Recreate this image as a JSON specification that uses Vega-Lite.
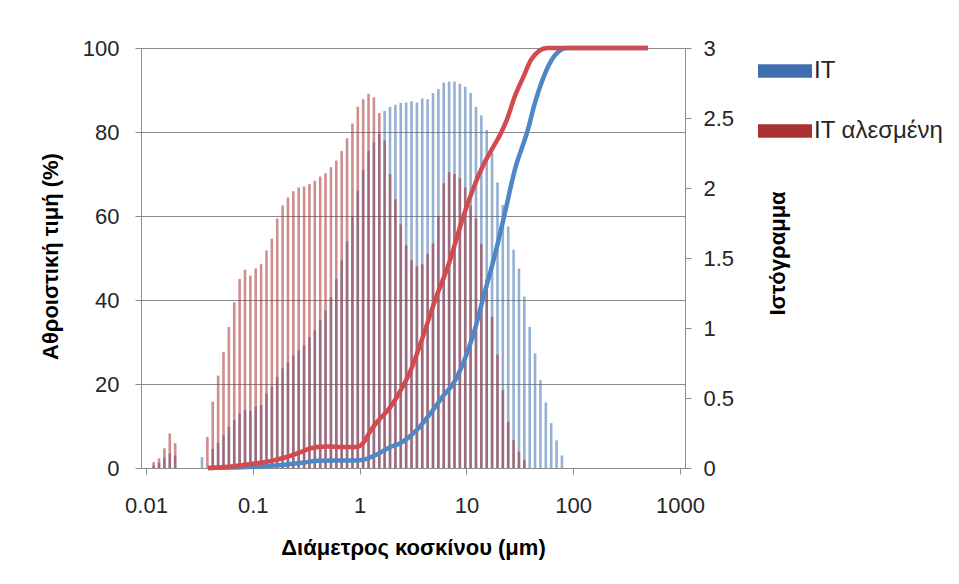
{
  "$schema": "https://vega.github.io/schema/vega-lite/v6.json",
  "width": 544,
  "height": 420,
  "autosize": {"type": "none"},
  "padding": {"left": 141, "top": 48, "right": 274, "bottom": 116},
  "background": "white",
  "config": {
    "font": "Liberation Sans",
    "view": {"stroke": null},
    "axis": {
      "domainColor": "#8c8c8c",
      "tickColor": "#8c8c8c",
      "gridColor": "#8c8c8c",
      "labelColor": "#262626",
      "titleColor": "#000000",
      "labelFont": "Liberation Sans",
      "titleFont": "Liberation Sans",
      "labelFontSize": 22,
      "titleFontSize": 22,
      "titleFontWeight": "bold",
      "tickSize": 6,
      "labelFlush": false,
      "labelOverlap": false
    }
  },
  "datasets": {
    "hist": [
      {"d": 0.01179, "s": "IT", "h": 0.018}, {"d": 0.01324, "s": "IT", "h": 0.036}, {"d": 0.01487, "s": "IT", "h": 0.075}, {"d": 0.0167, "s": "IT", "h": 0.105}, {"d": 0.01875, "s": "IT", "h": 0.09},
      {"d": 0.03345, "s": "IT", "h": 0.078}, {"d": 0.04217, "s": "IT", "h": 0.135}, {"d": 0.04734, "s": "IT", "h": 0.18}, {"d": 0.05317, "s": "IT", "h": 0.234}, {"d": 0.0597, "s": "IT", "h": 0.294},
      {"d": 0.06704, "s": "IT", "h": 0.342}, {"d": 0.07527, "s": "IT", "h": 0.39}, {"d": 0.08452, "s": "IT", "h": 0.414}, {"d": 0.09487, "s": "IT", "h": 0.408}, {"d": 0.1065, "s": "IT", "h": 0.438},
      {"d": 0.1196, "s": "IT", "h": 0.45}, {"d": 0.1343, "s": "IT", "h": 0.534}, {"d": 0.1508, "s": "IT", "h": 0.579}, {"d": 0.1693, "s": "IT", "h": 0.651}, {"d": 0.1901, "s": "IT", "h": 0.711},
      {"d": 0.2134, "s": "IT", "h": 0.756}, {"d": 0.2396, "s": "IT", "h": 0.804}, {"d": 0.269, "s": "IT", "h": 0.84}, {"d": 0.3021, "s": "IT", "h": 0.876}, {"d": 0.3392, "s": "IT", "h": 0.936},
      {"d": 0.3808, "s": "IT", "h": 0.984}, {"d": 0.4276, "s": "IT", "h": 1.056}, {"d": 0.4801, "s": "IT", "h": 1.125}, {"d": 0.539, "s": "IT", "h": 1.221}, {"d": 0.6052, "s": "IT", "h": 1.35},
      {"d": 0.6795, "s": "IT", "h": 1.482}, {"d": 0.763, "s": "IT", "h": 1.62}, {"d": 0.8566, "s": "IT", "h": 1.8}, {"d": 0.9618, "s": "IT", "h": 1.98}, {"d": 1.08, "s": "IT", "h": 2.13},
      {"d": 1.213, "s": "IT", "h": 2.265}, {"d": 1.361, "s": "IT", "h": 2.325}, {"d": 1.529, "s": "IT", "h": 2.385}, {"d": 1.716, "s": "IT", "h": 2.55}, {"d": 1.927, "s": "IT", "h": 2.58},
      {"d": 2.164, "s": "IT", "h": 2.595}, {"d": 2.429, "s": "IT", "h": 2.607}, {"d": 2.728, "s": "IT", "h": 2.61}, {"d": 3.063, "s": "IT", "h": 2.619}, {"d": 3.439, "s": "IT", "h": 2.61},
      {"d": 3.861, "s": "IT", "h": 2.64}, {"d": 4.335, "s": "IT", "h": 2.634}, {"d": 4.868, "s": "IT", "h": 2.679}, {"d": 5.465, "s": "IT", "h": 2.706}, {"d": 6.137, "s": "IT", "h": 2.754},
      {"d": 6.89, "s": "IT", "h": 2.76}, {"d": 7.736, "s": "IT", "h": 2.76}, {"d": 8.686, "s": "IT", "h": 2.745}, {"d": 9.752, "s": "IT", "h": 2.724}, {"d": 10.95, "s": "IT", "h": 2.679},
      {"d": 12.29, "s": "IT", "h": 2.58}, {"d": 13.8, "s": "IT", "h": 2.517}, {"d": 15.5, "s": "IT", "h": 2.415}, {"d": 17.4, "s": "IT", "h": 2.25}, {"d": 19.54, "s": "IT", "h": 2.04},
      {"d": 21.94, "s": "IT", "h": 1.878}, {"d": 24.63, "s": "IT", "h": 1.725}, {"d": 27.66, "s": "IT", "h": 1.56}, {"d": 31.05, "s": "IT", "h": 1.425}, {"d": 34.87, "s": "IT", "h": 1.224},
      {"d": 39.15, "s": "IT", "h": 1.008}, {"d": 43.95, "s": "IT", "h": 0.819}, {"d": 49.35, "s": "IT", "h": 0.627}, {"d": 55.41, "s": "IT", "h": 0.468}, {"d": 62.21, "s": "IT", "h": 0.321},
      {"d": 69.85, "s": "IT", "h": 0.198}, {"d": 78.43, "s": "IT", "h": 0.09},
      {"d": 0.01179, "s": "IT αλεσμένη", "h": 0.042}, {"d": 0.01324, "s": "IT αλεσμένη", "h": 0.069}, {"d": 0.01487, "s": "IT αλεσμένη", "h": 0.141}, {"d": 0.0167, "s": "IT αλεσμένη", "h": 0.246}, {"d": 0.01875, "s": "IT αλεσμένη", "h": 0.177},
      {"d": 0.03756, "s": "IT αλεσμένη", "h": 0.222}, {"d": 0.04217, "s": "IT αλεσμένη", "h": 0.474}, {"d": 0.04734, "s": "IT αλεσμένη", "h": 0.66}, {"d": 0.05317, "s": "IT αλεσμένη", "h": 0.828}, {"d": 0.0597, "s": "IT αλεσμένη", "h": 1.008},
      {"d": 0.06704, "s": "IT αλεσμένη", "h": 1.185}, {"d": 0.07527, "s": "IT αλεσμένη", "h": 1.35}, {"d": 0.08452, "s": "IT αλεσμένη", "h": 1.416}, {"d": 0.09487, "s": "IT αλεσμένη", "h": 1.374}, {"d": 0.1065, "s": "IT αλεσμένη", "h": 1.425},
      {"d": 0.1196, "s": "IT αλεσμένη", "h": 1.458}, {"d": 0.1343, "s": "IT αλεσμένη", "h": 1.554}, {"d": 0.1508, "s": "IT αλεσμένη", "h": 1.638}, {"d": 0.1693, "s": "IT αλεσμένη", "h": 1.782}, {"d": 0.1901, "s": "IT αλεσμένη", "h": 1.875},
      {"d": 0.2134, "s": "IT αλεσμένη", "h": 1.932}, {"d": 0.2396, "s": "IT αλεσμένη", "h": 1.977}, {"d": 0.269, "s": "IT αλεσμένη", "h": 2.004}, {"d": 0.3021, "s": "IT αλεσμένη", "h": 2.01}, {"d": 0.3392, "s": "IT αλεσμένη", "h": 2.028},
      {"d": 0.3808, "s": "IT αλεσμένη", "h": 2.052}, {"d": 0.4276, "s": "IT αλεσμένη", "h": 2.082}, {"d": 0.4801, "s": "IT αλεσμένη", "h": 2.106}, {"d": 0.539, "s": "IT αλεσμένη", "h": 2.148}, {"d": 0.6052, "s": "IT αλεσμένη", "h": 2.196},
      {"d": 0.6795, "s": "IT αλεσμένη", "h": 2.265}, {"d": 0.763, "s": "IT αλεσμένη", "h": 2.355}, {"d": 0.8566, "s": "IT αλεσμένη", "h": 2.46}, {"d": 0.9618, "s": "IT αλεσμένη", "h": 2.58}, {"d": 1.08, "s": "IT αλεσμένη", "h": 2.634},
      {"d": 1.213, "s": "IT αλεσμένη", "h": 2.673}, {"d": 1.361, "s": "IT αλεσμένη", "h": 2.649}, {"d": 1.529, "s": "IT αλεσμένη", "h": 2.535}, {"d": 1.716, "s": "IT αλεσμένη", "h": 2.34}, {"d": 1.927, "s": "IT αλεσμένη", "h": 2.1},
      {"d": 2.164, "s": "IT αλεσμένη", "h": 1.92}, {"d": 2.429, "s": "IT αλεσμένη", "h": 1.74}, {"d": 2.728, "s": "IT αλεσμένη", "h": 1.59}, {"d": 3.063, "s": "IT αλεσμένη", "h": 1.485}, {"d": 3.439, "s": "IT αλεσμένη", "h": 1.44},
      {"d": 3.861, "s": "IT αλεσμένη", "h": 1.455}, {"d": 4.335, "s": "IT αλεσμένη", "h": 1.53}, {"d": 4.868, "s": "IT αλεσμένη", "h": 1.605}, {"d": 5.465, "s": "IT αλεσμένη", "h": 1.8}, {"d": 6.137, "s": "IT αλεσμένη", "h": 2.034},
      {"d": 6.89, "s": "IT αλεσμένη", "h": 2.112}, {"d": 7.736, "s": "IT αλεσμένη", "h": 2.1}, {"d": 8.686, "s": "IT αλεσμένη", "h": 2.07}, {"d": 9.752, "s": "IT αλεσμένη", "h": 2.004}, {"d": 10.95, "s": "IT αλεσμένη", "h": 1.875},
      {"d": 12.29, "s": "IT αλεσμένη", "h": 1.782}, {"d": 13.8, "s": "IT αλεσμένη", "h": 1.602}, {"d": 15.5, "s": "IT αλεσμένη", "h": 1.35}, {"d": 17.4, "s": "IT αλεσμένη", "h": 1.08}, {"d": 19.54, "s": "IT αλεσμένη", "h": 0.81},
      {"d": 21.94, "s": "IT αλεσμένη", "h": 0.555}, {"d": 24.63, "s": "IT αλεσμένη", "h": 0.33}, {"d": 27.66, "s": "IT αλεσμένη", "h": 0.198}, {"d": 31.05, "s": "IT αλεσμένη", "h": 0.117}, {"d": 34.87, "s": "IT αλεσμένη", "h": 0.057}
    ],
    "cum": [
      {"d": 0.038, "c": "IT", "p": 0}, {"d": 0.06, "c": "IT", "p": 0.1}, {"d": 0.1, "c": "IT", "p": 0.3}, {"d": 0.2, "c": "IT", "p": 0.8}, {"d": 0.3, "c": "IT", "p": 1.3},
      {"d": 0.4, "c": "IT", "p": 1.7}, {"d": 0.6, "c": "IT", "p": 1.8}, {"d": 0.9, "c": "IT", "p": 1.8}, {"d": 1.1, "c": "IT", "p": 2}, {"d": 1.445, "c": "IT", "p": 3.2},
      {"d": 1.944, "c": "IT", "p": 5}, {"d": 2.4, "c": "IT", "p": 5.9}, {"d": 3.42, "c": "IT", "p": 9}, {"d": 4.86, "c": "IT", "p": 13.8}, {"d": 6.0, "c": "IT", "p": 17},
      {"d": 7.7, "c": "IT", "p": 20.5}, {"d": 9.85, "c": "IT", "p": 26.5}, {"d": 12, "c": "IT", "p": 33}, {"d": 14.2, "c": "IT", "p": 40}, {"d": 18.6, "c": "IT", "p": 51},
      {"d": 22.6, "c": "IT", "p": 60}, {"d": 28.4, "c": "IT", "p": 71}, {"d": 37.6, "c": "IT", "p": 80.5}, {"d": 43.35, "c": "IT", "p": 86.5}, {"d": 53.6, "c": "IT", "p": 93.5},
      {"d": 66.2, "c": "IT", "p": 98}, {"d": 87, "c": "IT", "p": 100}, {"d": 200, "c": "IT", "p": 100}, {"d": 500, "c": "IT", "p": 100},
      {"d": 0.038, "c": "IT αλεσμένη", "p": 0}, {"d": 0.06, "c": "IT αλεσμένη", "p": 0.3}, {"d": 0.1, "c": "IT αλεσμένη", "p": 1}, {"d": 0.15, "c": "IT αλεσμένη", "p": 1.7}, {"d": 0.2, "c": "IT αλεσμένη", "p": 2.5},
      {"d": 0.25, "c": "IT αλεσμένη", "p": 3.3}, {"d": 0.3, "c": "IT αλεσμένη", "p": 4.1}, {"d": 0.35, "c": "IT αλεσμένη", "p": 4.7}, {"d": 0.4, "c": "IT αλεσμένη", "p": 5}, {"d": 0.5, "c": "IT αλεσμένη", "p": 5.1},
      {"d": 0.7, "c": "IT αλεσμένη", "p": 5}, {"d": 0.9, "c": "IT αλεσμένη", "p": 5}, {"d": 1.0, "c": "IT αλεσμένη", "p": 5.2}, {"d": 1.1, "c": "IT αλεσμένη", "p": 6.2}, {"d": 1.26, "c": "IT αλεσμένη", "p": 8.8},
      {"d": 1.5, "c": "IT αλεσμένη", "p": 11.3}, {"d": 1.94, "c": "IT αλεσμένη", "p": 14.5}, {"d": 2.4, "c": "IT αλεσμένη", "p": 18.3}, {"d": 2.98, "c": "IT αλεσμένη", "p": 23}, {"d": 3.42, "c": "IT αλεσμένη", "p": 27},
      {"d": 4.0, "c": "IT αλεσμένη", "p": 32}, {"d": 5.1, "c": "IT αλεσμένη", "p": 40}, {"d": 6.92, "c": "IT αλεσμένη", "p": 49}, {"d": 9.4, "c": "IT αλεσμένη", "p": 60}, {"d": 12, "c": "IT αλεσμένη", "p": 67.5},
      {"d": 14, "c": "IT αλεσμένη", "p": 71.5}, {"d": 17, "c": "IT αλεσμένη", "p": 75.5}, {"d": 21.3, "c": "IT αλεσμένη", "p": 80}, {"d": 24, "c": "IT αλεσμένη", "p": 83}, {"d": 28.4, "c": "IT αλεσμένη", "p": 88.5},
      {"d": 34, "c": "IT αλεσμένη", "p": 93}, {"d": 40.3, "c": "IT αλεσμένη", "p": 97.2}, {"d": 48, "c": "IT αλεσμένη", "p": 99.3}, {"d": 57, "c": "IT αλεσμένη", "p": 100}, {"d": 100, "c": "IT αλεσμένη", "p": 100},
      {"d": 200, "c": "IT αλεσμένη", "p": 100}, {"d": 500, "c": "IT αλεσμένη", "p": 100}
    ]
  },
  "layer": [
    {
      "data": {"name": "hist"},
      "mark": {"type": "bar", "orient": "vertical", "size": 2.6, "opacity": 0.55},
      "encoding": {
        "x": {
          "field": "d", "type": "quantitative",
          "scale": {"type": "log", "domain": [0.01, 1000], "nice": false},
          "axis": {
            "values": [0.01, 0.1, 1, 10, 100, 1000], "format": "~g", "grid": false,
            "labelPadding": 21, "title": "Διάμετρος κοσκίνου (μm)",
            "titleY": 79, "titleBaseline": "middle"
          }
        },
        "y": {
          "field": "h", "type": "quantitative", "stack": null,
          "scale": {"domain": [0, 3], "nice": false},
          "axis": {
            "orient": "right", "values": [0, 0.5, 1, 1.5, 2, 2.5, 3], "format": "~g", "grid": false,
            "labelPadding": 12, "title": "Ιστόγραμμα", "titleAngle": 270,
            "titleX": 92, "titleY": 205, "titleBaseline": "middle"
          }
        },
        "color": {
          "field": "s", "type": "nominal",
          "scale": {"domain": ["IT", "IT αλεσμένη"], "range": ["#3f6fb0", "#a83232"]},
          "legend": {
            "orient": "none", "legendX": 617, "legendY": -4, "title": null, "padding": 0,
            "symbolType": "M-1,-0.25H1V0.25H-1Z", "symbolSize": 2916, "symbolStrokeWidth": 0,
            "symbolOpacity": 1, "labelFontSize": 24, "labelFont": "Liberation Sans",
            "labelColor": "#262626", "labelOffset": 2, "rowPadding": 21
          }
        }
      }
    },
    {
      "data": {"name": "cum"},
      "mark": {"type": "line", "strokeWidth": 4.5, "interpolate": "monotone"},
      "encoding": {
        "x": {"field": "d", "type": "quantitative", "scale": {"type": "log", "domain": [0.01, 1000], "nice": false}},
        "y": {
          "field": "p", "type": "quantitative",
          "scale": {"domain": [0, 100], "nice": false},
          "axis": {
            "orient": "left", "values": [0, 20, 40, 60, 80, 100], "grid": true,
            "labelPadding": 16, "title": "Αθροιστική τιμή (%)", "titleAngle": 270,
            "titleX": -91, "titleY": 208, "titleBaseline": "middle"
          }
        },
        "color": {
          "field": "c", "type": "nominal",
          "scale": {"domain": ["IT", "IT αλεσμένη"], "range": ["#4f86c6", "#d24a4f"]},
          "legend": null
        }
      }
    }
  ],
  "resolve": {"scale": {"y": "independent", "color": "independent"}}
}
